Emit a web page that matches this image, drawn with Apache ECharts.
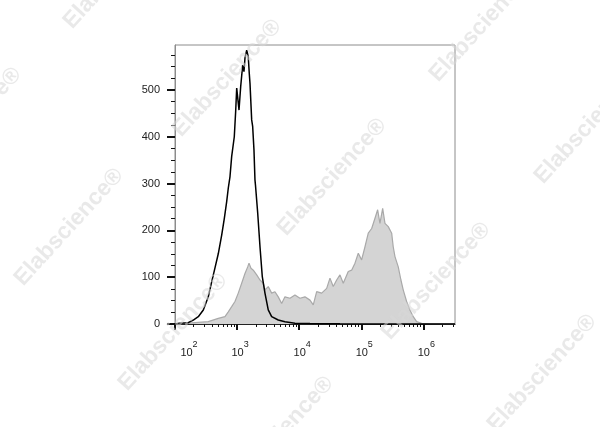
<!DOCTYPE html>
<html>
<head>
<meta charset="utf-8">
<script src="https://cdn.jsdelivr.net/npm/echarts@6/dist/echarts.min.js"></script>
<style>html,body{margin:0;padding:0;background:#fff;}#c{width:600px;height:427px;}</style>
</head>
<body>
<div id="c"></div>
<script>
// x positions are in decades (log10 of fluorescence intensity)
var blackX = [2.00,2.07,2.214,2.295,2.375,2.456,2.536,2.591,2.644,2.697,2.752,2.794,2.833,2.858,2.886,2.913,2.955,2.977,2.994,3.031,3.058,3.090,3.111,3.127,3.155,3.180,3.196,3.208,3.235,3.251,3.272,3.288,3.296,3.332,3.369,3.406,3.449,3.502,3.557,3.663,3.771,3.932,4.174,4.657,5.2,6.0,6.51];
var blackY = [0,1.5,2.8,8.5,15.6,30,58,90,120,150,190,225,262,290,315,358,400,454,504,457,507,553,539,568,585,571,536,514,436,422,372,308,297,237,165,101,66,30,15.6,8.5,4.9,1.5,1,0.3,0,0,0];
var grayX = [2.00,2.161,2.322,2.536,2.697,2.805,2.858,2.913,2.966,3.019,3.074,3.127,3.171,3.192,3.224,3.261,3.316,3.369,3.422,3.449,3.502,3.557,3.610,3.663,3.718,3.771,3.852,3.932,4.013,4.093,4.174,4.227,4.282,4.362,4.443,4.496,4.549,4.604,4.657,4.710,4.791,4.845,4.899,4.952,5.006,5.060,5.113,5.168,5.221,5.264,5.301,5.345,5.382,5.435,5.490,5.515,5.543,5.596,5.639,5.676,5.731,5.784,5.838,5.892,5.973,6.10,6.51];
var grayY = [0,1.5,3,5,12,15.6,26,37,48,66,87,108,122,130,119,115,105,94,87,73,80,66,69,58,44,58,55,62,55,58,51,41,69,66,76,98,80,94,105,87,112,115,130,151,137,165,194,204,226,244,215,247,215,208,194,165,144,122,94,73,48,30,15.6,5,1.5,0.5,0];
var xMajorExp = [2,3,4,5,6];
var xMinorMult = [2,3,4,5,6,7,8,9];
var yTickLabels = [0,100,200,300,400,500];
var yMinorStep = 25;
var watermarkText = 'Elabscience\u00ae';
var watermarkPos = [[118,-30],[-33,126],[227,78],[484,23],[332,177],[69,227],[589,125],[436,281],[173,332],[279,435],[542,373]];

var X_MIN = 2, X_MAX = 6.51, Y_MAX = 596;

function pairs(xs, ys){ var o=[]; for (var i=0;i<xs.length;i++) o.push([xs[i], ys[i]]); return o; }
var xMinor = [];
xMajorExp.forEach(function(d){ xMinorMult.forEach(function(k){ var v = d + Math.log10(k); if (v < X_MAX) xMinor.push(v); }); });
var yMinor = [];
for (var v = 0; v <= Y_MAX; v += yMinorStep) { if (v % 100 !== 0) yMinor.push(v); }

var font = 'Liberation Sans, Arial, Helvetica, sans-serif';
var chart = echarts.init(document.getElementById('c'), null, {renderer:'canvas'});
chart.setOption({
  animation: false,
  backgroundColor: '#fff',
  grid: {left:175, top:45, right:145, bottom:103, show:true, borderColor:'#8c8c8c', borderWidth:1, backgroundColor:'transparent'},
  xAxis: [{
    type:'value', min:X_MIN, max:X_MAX, position:'bottom',
    axisLine:{show:true, onZero:false, lineStyle:{color:'#222', width:1.2}},
    axisTick:{show:true, customValues:xMajorExp, length:6, lineStyle:{color:'#111', width:2}},
    axisLabel:{customValues:xMajorExp, margin:16, color:'#222', fontFamily:font,
      formatter:function(val){ var e = Math.round(val); return (e===2 ? '{q|}' : '{p|}') + '{b|10}{s|' + e + '}'; },
      rich:{
        p:{width:6, height:18, lineHeight:18},
        q:{width:28, height:18, lineHeight:18},
        b:{fontSize:11, lineHeight:11, verticalAlign:'bottom', fontFamily:font, color:'#222'},
        s:{fontSize:9, lineHeight:9, verticalAlign:'top', fontFamily:font, color:'#222'}
      }},
    splitLine:{show:false}
  },{
    type:'value', min:X_MIN, max:X_MAX, position:'bottom',
    axisLine:{show:false},
    axisTick:{show:true, customValues:xMinor, length:3, lineStyle:{color:'#111', width:1}},
    axisLabel:{show:false}, splitLine:{show:false}
  }],
  yAxis: [{
    type:'value', min:0, max:Y_MAX, position:'left',
    axisLine:{show:true, onZero:false, lineStyle:{color:'#8c8c8c', width:1}},
    axisTick:{show:true, customValues:yTickLabels, length:8, lineStyle:{color:'#111', width:2}},
    axisLabel:{customValues:yTickLabels, margin:15, fontSize:11, color:'#222', fontFamily:font},
    splitLine:{show:false}
  },{
    type:'value', min:0, max:Y_MAX, position:'left',
    axisLine:{show:false},
    axisTick:{show:true, customValues:yMinor, length:4, lineStyle:{color:'#111', width:1}},
    axisLabel:{show:false}, splitLine:{show:false}
  }],
  series: [{
    type:'line', xAxisIndex:0, yAxisIndex:0, data:pairs(grayX, grayY), showSymbol:false, symbol:'none',
    lineStyle:{color:'#a9a9a9', width:1.2}, areaStyle:{color:'#d4d4d4', opacity:1}, z:2
  },{
    type:'line', xAxisIndex:0, yAxisIndex:0, data:pairs(blackX, blackY), showSymbol:false, symbol:'none',
    lineStyle:{color:'#000', width:1.5}, z:3
  }],
  graphic: watermarkPos.map(function(p){
    return {type:'text', x:p[0], y:p[1], rotation:47.6*Math.PI/180, z:100, silent:true,
      style:{text:watermarkText, fontSize:23, fontWeight:'bold', fontFamily:font, fill:'rgba(215,215,215,0.55)', align:'center', verticalAlign:'middle'}};
  })
});
</script>
</body>
</html>
